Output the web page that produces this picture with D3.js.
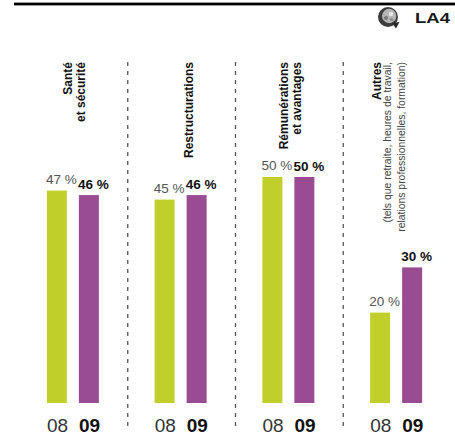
<!DOCTYPE html>
<html><head><meta charset="utf-8">
<script src="https://cdn.jsdelivr.net/npm/d3@7"></script>
<style>html,body{margin:0;padding:0;background:#fff;}svg{display:block;}</style>
</head><body>
<svg id="chart" width="455" height="434"></svg>
<script>
// ---- data ----
const categories = ["Santé et sécurité", "Restructurations", "Rémunérations et avantages", "Autres"];
const titleLines = [["Santé", "et sécurité"], ["Restructurations"], ["Rémunérations", "et avantages"], ["Autres"]];
const noteLines = [[], [], [], ["(tels que retraite, heures de travail,", "relations professionnelles, formation)"]];
const years = ["08", "09"];
const values08 = [47, 45, 50, 20];
const values09 = [46, 46, 50, 30];
const valueLabels08 = ["47 %", "45 %", "50 %", "20 %"];
const valueLabels09 = ["46 %", "46 %", "50 %", "30 %"];
const badge = "LA4";

// ---- setup ----
const svg = d3.select("#chart");
const W = 455, H = 434;
const font = "'Liberation Sans', Arial, sans-serif";
const colors = {"08": "#C1CF2B", "09": "#9A4C93"};

const x = d3.scaleBand().domain(categories).range([19, 450]).paddingInner(0).paddingOuter(0);
const xSub = d3.scaleBand().domain(years).range([0, 52]).paddingInner(0.375);
const y = d3.scaleLinear().domain([0, 50]).range([403, 177]);

// top rule
svg.append("rect").attr("x", 14).attr("y", 2.6).attr("width", W - 14).attr("height", 2.8).attr("fill", "#000");

// badge icon (globe-like)
const icon = svg.append("g").attr("transform", "translate(388,17)");
icon.append("circle").attr("r", 10).attr("fill", "#3c3c3c");
icon.append("circle").attr("cx", 1.2).attr("cy", -1).attr("r", 7.2).attr("fill", "#b5b5b5");
icon.append("circle").attr("cx", 3).attr("cy", -3).attr("r", 2.3).attr("fill", "#e6e6e6");
icon.append("circle").attr("cx", -2).attr("cy", 1).attr("r", 2.1).attr("fill", "#7a7a7a");
icon.append("circle").attr("cx", 3.5).attr("cy", 2.5).attr("r", 1.6).attr("fill", "#8a8a8a");
icon.append("path").attr("d", "M4,6 L11.5,5 L8,11.5 Z").attr("fill", "#2a2a2a");
svg.append("text").attr("x", 415).attr("y", 23).attr("font-family", font).attr("font-size", 15.5)
  .attr("font-weight", "bold").attr("fill", "#1a1a1a").attr("textLength", 35).attr("lengthAdjust", "spacingAndGlyphs").text(badge);

// dividers
categories.slice(1).forEach(c => {
  const xx = x(c) + 1;
  svg.append("line").attr("x1", xx).attr("x2", xx).attr("y1", 62).attr("y2", 427)
    .attr("stroke", "#555").attr("stroke-width", 1.3).attr("stroke-dasharray", "4,5");
});

// groups
const rows = categories.map((c, i) => ({cat: c, i}));
const g = svg.selectAll("g.grp").data(rows).join("g").attr("class", "grp")
  .attr("transform", d => `translate(${x(d.cat) + x.bandwidth() / 2 - 26},0)`);

const barData = d => [
  {year: "08", v: values08[d.i], label: valueLabels08[d.i]},
  {year: "09", v: values09[d.i], label: valueLabels09[d.i]}
];

g.selectAll("rect.bar").data(barData).join("rect").attr("class", "bar")
  .attr("x", d => xSub(d.year)).attr("width", xSub.bandwidth())
  .attr("y", d => y(d.v)).attr("height", d => y(0) - y(d.v))
  .attr("fill", d => colors[d.year]);

g.selectAll("text.val").data(barData).join("text").attr("class", "val")
  .attr("x", d => xSub(d.year) - 1)
  .attr("y", d => y(d.v) - (d.year === "08" ? 7 : 6))
  .attr("font-family", font).attr("font-size", 13.5)
  .attr("font-weight", d => d.year === "09" ? "bold" : "normal")
  .attr("fill", d => d.year === "09" ? "#111" : "#555")
  .text(d => d.label);

g.selectAll("text.yr").data(years).join("text").attr("class", "yr")
  .attr("x", d => xSub(d)).attr("y", 431.5)
  .attr("font-family", font).attr("font-size", 19)
  .attr("font-weight", d => d === "09" ? "bold" : "normal")
  .attr("fill", d => d === "09" ? "#111" : "#333")
  .text(d => d);

// category titles (rotated)
rows.forEach(d => {
  const lines = [];
  titleLines[d.i].forEach(t => lines.push({t, bold: true}));
  noteLines[d.i].forEach(t => lines.push({t, bold: false}));
  const cx = x(d.cat) + x.bandwidth() / 2;
  let pos = cx + 12.5 - (noteLines[d.i].length ? 4 : 0);
  const baselines = new Array(lines.length);
  for (let k = lines.length - 1; k >= 0; k--) {
    baselines[k] = pos;
    if (k > 0) {
      const a = lines[k - 1], b = lines[k];
      pos -= (a.bold && b.bold) ? 13 : (a.bold && !b.bold) ? 10 : 14;
    }
  }
  lines.forEach((ln, k) => {
    svg.append("text")
      .attr("transform", `translate(${baselines[k]},62) rotate(-90)`)
      .attr("text-anchor", "end")
      .attr("font-family", font)
      .attr("font-size", ln.bold ? 12 : 10.4)
      .attr("font-weight", ln.bold ? "bold" : "normal")
      .attr("fill", ln.bold ? "#111" : "#444")
      .text(ln.t);
  });
});
</script>
</body></html>
